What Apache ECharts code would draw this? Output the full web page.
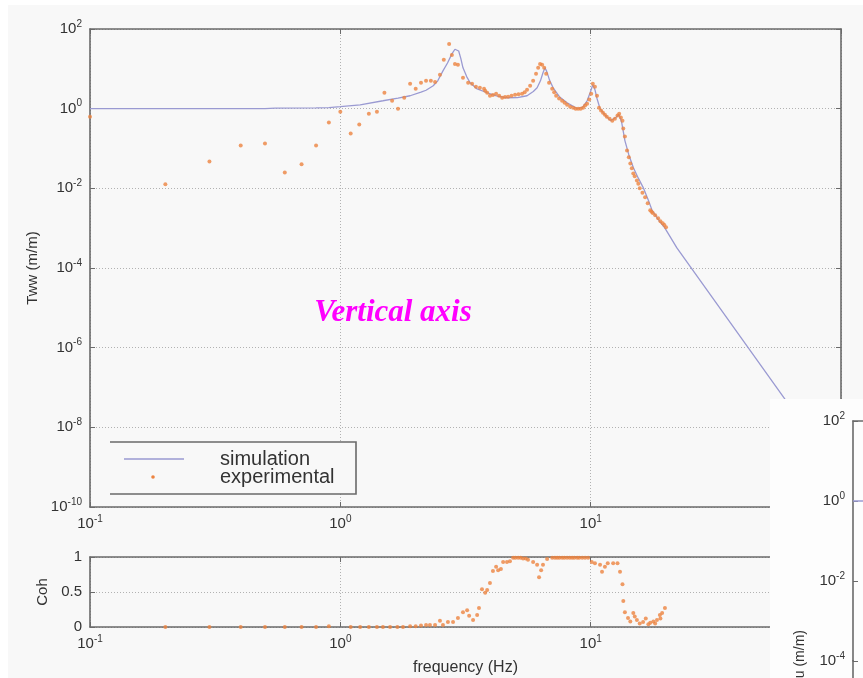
<!DOCTYPE html>
<html>
<head>
<meta charset="utf-8">
<script src="https://cdn.jsdelivr.net/npm/echarts@6/dist/echarts.min.js"></script>
<style>
  html, body { margin: 0; padding: 0; background: #f8f8f8; }
  #chart { width: 863px; height: 678px; }
</style>
</head>
<body>
<div id="chart"></div>
<script>
// Transfer function Tww: simulated curve
const simFreq = [0.1, 0.3, 0.5, 0.55, 0.8, 0.9, 1.0, 1.2, 1.48, 1.7, 1.9, 2.1, 2.2, 2.35, 2.45, 2.57, 2.68, 2.79, 2.87, 2.92, 2.97, 3.03, 3.09, 3.2, 3.3, 3.5, 3.86, 4.2, 4.63, 5.1, 5.57, 5.9, 6.11, 6.3, 6.45, 6.57, 6.68, 6.85, 7.08, 7.5, 8.05, 8.83, 9.3, 9.68, 9.95, 10.2, 10.4, 10.6, 10.9, 11.4, 12.0, 12.6, 13.0, 13.3, 13.7, 14.2, 14.8, 15.5, 16.2, 17.0, 17.6, 18.7, 19.8, 22.1, 59.8, 100];
const simTww  = [1.0, 1.0, 1.0, 1.03, 1.05, 1.06, 1.12, 1.25, 1.58, 1.85, 2.11, 2.6, 2.9, 3.76, 5.0, 8.9, 14, 23.7, 31, 33, 28, 18, 10.6, 6.3, 4.47, 3.2, 2.51, 2.1, 1.88, 1.9, 2.11, 2.7, 3.35, 5.0, 8.0, 10.6, 8.5, 5.2, 3.35, 2.0, 1.41, 1.0, 1.1, 1.58, 2.5, 4.0, 3.0, 1.8, 1.0, 0.7, 0.5, 0.6, 0.71, 0.45, 0.158, 0.07, 0.0335, 0.018, 0.0106, 0.005, 0.0028, 0.0016, 0.001, 3.2e-4, 5e-8, 5e-10];

// Transfer function Tww: measured points
const expFreq = [0.1, 0.2, 0.3, 0.4, 0.5, 0.6, 0.7, 0.8, 0.9, 1.0, 1.1, 1.19, 1.3, 1.4, 1.5, 1.61, 1.7, 1.8, 1.9, 2.0, 2.1, 2.2, 2.3, 2.39, 2.5, 2.59, 2.72, 2.79, 2.87, 2.95, 3.09, 3.24, 3.36, 3.48, 3.61, 3.75, 3.79, 3.86, 3.96, 4.07, 4.19, 4.31, 4.43, 4.55, 4.68, 4.83, 4.99, 5.15, 5.32, 5.45, 5.57, 5.73, 5.89, 6.05, 6.17, 6.28, 6.4, 6.52, 6.64, 6.82, 7.02, 7.15, 7.28, 7.48, 7.69, 7.87, 8.05, 8.28, 8.51, 8.71, 8.91, 9.12, 9.33, 9.5, 9.68, 9.87, 10.05, 10.2, 10.4, 10.6, 10.8, 11.0, 11.2, 11.4, 11.6, 11.9, 12.2, 12.5, 12.8, 13.0, 13.2, 13.4, 13.5, 13.7, 13.97, 14.2, 14.4, 14.6, 14.8, 15.0, 15.3, 15.5, 15.7, 16.1, 16.5, 16.9, 17.3, 17.5, 17.7, 18.1, 18.6, 19.0, 19.4, 19.7, 20.0];
const expTww  = [0.63, 0.0126, 0.047, 0.119, 0.133, 0.025, 0.04, 0.119, 0.447, 0.84, 0.237, 0.4, 0.75, 0.84, 2.51, 1.58, 1.0, 1.88, 4.22, 3.16, 4.47, 5.0, 5.0, 4.7, 7.1, 16.8, 42, 22.4, 13.3, 12.6, 5.96, 4.47, 4.22, 3.55, 3.35, 3.16, 2.82, 2.51, 2.11, 2.2, 2.37, 2.1, 1.88, 1.95, 2.0, 2.1, 2.24, 2.3, 2.37, 2.6, 2.99, 3.76, 5.0, 7.5, 10.6, 13.3, 12.6, 10.6, 7.5, 4.47, 3.16, 2.6, 2.11, 1.8, 1.58, 1.4, 1.26, 1.12, 1.06, 1.0, 1.0, 1.0, 1.06, 1.2, 1.33, 1.7, 2.37, 4.22, 3.55, 2.11, 1.06, 0.9, 0.79, 0.7, 0.63, 0.56, 0.5, 0.56, 0.67, 0.75, 0.6, 0.5, 0.316, 0.2, 0.089, 0.06, 0.042, 0.032, 0.0237, 0.02, 0.0158, 0.013, 0.01, 0.0078, 0.006, 0.0042, 0.0028, 0.0026, 0.0024, 0.0021, 0.00178, 0.0015, 0.00133, 0.0012, 0.00106];

// Coherence of the measurement
const cohFreq = [0.2, 0.3, 0.4, 0.5, 0.6, 0.7, 0.8, 0.9, 1.1, 1.2, 1.3, 1.4, 1.48, 1.58, 1.69, 1.78, 1.9, 2.0, 2.1, 2.2, 2.28, 2.39, 2.5, 2.57, 2.69, 2.82, 2.95, 3.09, 3.21, 3.27, 3.39, 3.52, 3.58, 3.68, 3.79, 3.86, 3.96, 4.07, 4.19, 4.27, 4.38, 4.47, 4.63, 4.76, 4.9, 5.0, 5.13, 5.25, 5.37, 5.5, 5.62, 5.89, 6.11, 6.22, 6.34, 6.45, 6.7, 7.02, 7.2, 7.35, 7.5, 7.69, 7.85, 8.05, 8.25, 8.43, 8.6, 8.83, 9.0, 9.25, 9.5, 9.77, 10.1, 10.4, 10.9, 11.1, 11.4, 11.7, 12.3, 12.8, 13.1, 13.4, 13.5, 13.7, 14.1, 14.4, 14.8, 15.0, 15.3, 15.7, 16.2, 16.6, 17.0, 17.3, 17.8, 18.1, 18.4, 18.9, 19.0, 19.3, 19.8];
const cohVal  = [0, 0, 0, 0, 0, 0, 0, 0.01, 0, 0, 0, 0, 0, 0, 0, 0, 0.01, 0.01, 0.02, 0.03, 0.03, 0.03, 0.09, 0.03, 0.07, 0.07, 0.13, 0.21, 0.24, 0.16, 0.1, 0.17, 0.27, 0.54, 0.49, 0.53, 0.63, 0.8, 0.86, 0.81, 0.83, 0.93, 0.93, 0.94, 0.99, 0.99, 0.99, 0.99, 0.98, 0.98, 0.96, 0.93, 0.89, 0.71, 0.81, 0.89, 0.97, 0.99, 0.99, 0.99, 0.99, 0.99, 0.99, 0.99, 0.99, 0.99, 0.99, 0.99, 0.99, 0.99, 0.99, 0.99, 0.93, 0.91, 0.89, 0.79, 0.86, 0.91, 0.91, 0.91, 0.79, 0.61, 0.37, 0.21, 0.13, 0.08, 0.2, 0.15, 0.1, 0.05, 0.07, 0.12, 0.04, 0.06, 0.08, 0.05, 0.1, 0.17, 0.12, 0.2, 0.27];

// Companion plot (horizontal transfer), visible only at its left edge
const sideFreq = [0.1, 1.0];
const sideVal  = [1.0, 1.0];

const zip = (a, b) => a.map((v, i) => [v, b[i]]);

const FONT = '"Liberation Sans", Arial, sans-serif';
const AXIS = '#6a6a6a';
const GRIDC = '#b2b2b2';
const SIM = '#9a9ad2';
const EXP = '#ec8340';

const powRich = {
  b: { fontSize: 15, color: '#333', fontFamily: FONT },
  s: { fontSize: 10, color: '#333', fontFamily: FONT, padding: [0, 0, 10, 0] }
};
const powLabel = v => '{b|10}{s|' + Math.round(Math.log10(v)) + '}';

function logX(grid, opts) {
  return Object.assign({
    type: 'log', gridIndex: grid, min: 0.1, max: 100, logBase: 10,
    axisLine: { show: true, onZero: false, lineStyle: { color: AXIS, width: 1.6 } },
    axisTick: { show: true, inside: true, length: 5, lineStyle: { color: AXIS } },
    axisLabel: { show: false },
    splitLine: { show: false }
  }, opts);
}

const chart = echarts.init(document.getElementById('chart'), null, { renderer: 'canvas' });

chart.setOption({
  backgroundColor: '#f8f8f8',
  animation: false,
  grid: [
    { left: 90, top: 29, width: 751, height: 478 },
    { left: 90, top: 557, width: 751, height: 70 },
    { left: 853, top: 421, width: 751, height: 240 }
  ],
  xAxis: [
    logX(0, {
      position: 'bottom',
      axisLabel: { show: true, formatter: powLabel, rich: powRich, margin: 7 },
      splitLine: { show: true, lineStyle: { color: GRIDC, type: [1, 2] } }
    }),
    logX(0, { position: 'top' }),
    logX(1, {
      position: 'bottom',
      name: 'frequency (Hz)', nameLocation: 'middle', nameGap: 33,
      nameTextStyle: { fontSize: 16, color: '#333', fontFamily: FONT },
      axisLabel: { show: true, formatter: powLabel, rich: powRich, margin: 7 },
      splitLine: { show: true, lineStyle: { color: GRIDC, type: [1, 2] } }
    }),
    logX(1, { position: 'top' }),
    logX(2, { position: 'top', z: 60, axisTick: { show: false } })
  ],
  yAxis: [
    {
      type: 'log', gridIndex: 0, min: 1e-10, max: 100, interval: 2, logBase: 10,
      name: 'Tww (m/m)', nameLocation: 'middle', nameGap: 46,
      nameTextStyle: { fontSize: 15, color: '#333', fontFamily: FONT },
      axisLine: { show: true, lineStyle: { color: AXIS, width: 1.6 } },
      axisTick: { show: true, inside: true, length: 5, lineStyle: { color: AXIS } },
      axisLabel: { formatter: powLabel, rich: powRich, margin: 8 },
      splitLine: { show: true, lineStyle: { color: GRIDC, type: [1, 2] } }
    },
    {
      type: 'log', gridIndex: 0, min: 1e-10, max: 100, interval: 2, logBase: 10, position: 'right',
      axisLine: { show: true, lineStyle: { color: AXIS, width: 1.6 } },
      axisTick: { show: true, inside: true, length: 5, lineStyle: { color: AXIS } },
      axisLabel: { show: false }, splitLine: { show: false }
    },
    {
      type: 'value', gridIndex: 1, min: 0, max: 1, interval: 0.5,
      name: 'Coh', nameLocation: 'middle', nameGap: 33,
      nameTextStyle: { fontSize: 15, color: '#333', fontFamily: FONT },
      axisLine: { show: true, lineStyle: { color: AXIS, width: 1.6 } },
      axisTick: { show: true, inside: true, length: 5, lineStyle: { color: AXIS } },
      axisLabel: { fontSize: 15, color: '#333', fontFamily: FONT, margin: 8 },
      splitLine: { show: true, lineStyle: { color: GRIDC, type: [1, 2] } }
    },
    {
      type: 'value', gridIndex: 1, min: 0, max: 1, interval: 0.5, position: 'right',
      axisLine: { show: true, lineStyle: { color: AXIS, width: 1.6 } },
      axisTick: { show: true, inside: true, length: 5, lineStyle: { color: AXIS } },
      axisLabel: { show: false }, splitLine: { show: false }
    },
    {
      type: 'log', gridIndex: 2, min: 1e-4, max: 100, interval: 2, logBase: 10, z: 60,
      axisLine: { show: true, lineStyle: { color: AXIS, width: 1.6 } },
      axisTick: { show: true, inside: true, length: 5, lineStyle: { color: AXIS } },
      axisLabel: { formatter: powLabel, rich: powRich, margin: 8 },
      splitLine: { show: false }
    }
  ],
  series: [
    {
      name: 'simulation', type: 'line', xAxisIndex: 0, yAxisIndex: 0,
      data: zip(simFreq, simTww), showSymbol: false,
      lineStyle: { color: SIM, width: 1.3 }, z: 3
    },
    {
      name: 'experimental', type: 'scatter', xAxisIndex: 0, yAxisIndex: 0,
      data: zip(expFreq, expTww), symbolSize: 4,
      itemStyle: { color: EXP }, z: 4
    },
    {
      name: 'coherence', type: 'scatter', xAxisIndex: 2, yAxisIndex: 2,
      data: zip(cohFreq, cohVal), symbolSize: 4,
      itemStyle: { color: EXP }, z: 4
    },
    {
      name: 'side', type: 'line', xAxisIndex: 4, yAxisIndex: 4,
      data: zip(sideFreq, sideVal), showSymbol: false,
      lineStyle: { color: SIM, width: 1.3 }, z: 61
    }
  ],
  graphic: [
    // light outer margin of the figure
    { type: 'rect', shape: { x: 0, y: 0, width: 8, height: 678 }, style: { fill: '#ffffff' }, z: 0, silent: true },
    { type: 'rect', shape: { x: 0, y: 0, width: 863, height: 5 }, style: { fill: '#ffffff' }, z: 0, silent: true },
    // legend box
    { type: 'rect', shape: { x: 110, y: 442, width: 246, height: 52 }, style: { fill: '#f8f8f8' }, z: 20, silent: true },
    { type: 'polyline', shape: { points: [[110, 442], [356, 442], [356, 494], [110, 494]] },
      style: { stroke: AXIS, lineWidth: 1.6, fill: null }, z: 21, silent: true },
    { type: 'line', shape: { x1: 124, y1: 459, x2: 184, y2: 459 }, style: { stroke: SIM, lineWidth: 1.3 }, z: 21, silent: true },
    { type: 'circle', shape: { cx: 153, cy: 477, r: 1.8 }, style: { fill: EXP }, z: 21, silent: true },
    { type: 'text', x: 220, y: 459, style: { text: 'simulation', font: '20px ' + FONT, fill: '#333', textVerticalAlign: 'middle' }, z: 21, silent: true },
    { type: 'text', x: 220, y: 477, style: { text: 'experimental', font: '20px ' + FONT, fill: '#333', textVerticalAlign: 'middle' }, z: 21, silent: true },
    // annotation
    { type: 'text', x: 393, y: 313, style: { text: 'Vertical axis', font: 'italic bold 31px "Liberation Serif", serif', fill: '#ff00ff', textAlign: 'center', textVerticalAlign: 'middle' }, z: 30, silent: true },
    // companion panel laid over the lower right corner
    { type: 'rect', shape: { x: 770, y: 399, width: 93, height: 279 }, style: { fill: '#fdfdfd' }, z: 50, silent: true },
    { type: 'line', shape: { x1: 853, y1: 660, x2: 853, y2: 678 }, style: { stroke: AXIS, lineWidth: 1.6 }, z: 62, silent: true },
    { type: 'text', x: 800, y: 630, rotation: Math.PI / 2, style: { text: 'Tuu (m/m)', font: '14px ' + FONT, fill: '#333', textAlign: 'right', textVerticalAlign: 'middle' }, z: 62, silent: true }
  ]
});
</script>
</body>
</html>
